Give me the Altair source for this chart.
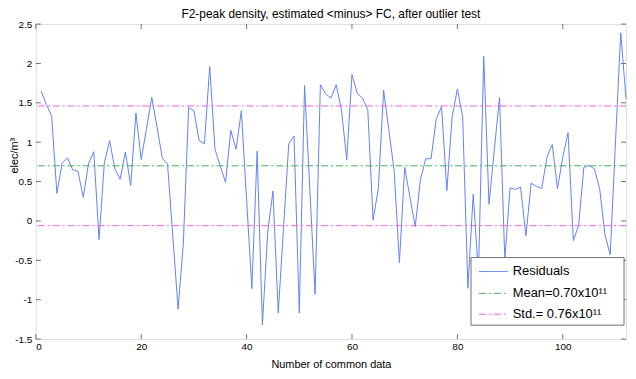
import altair as alt
import pandas as pd

# ---------------- data ----------------
title_text = "F2-peak density, estimated <minus> FC, after outlier test"
x_title = "Number of common data"
y_title = "elec/m³"

sample_index = list(range(1, 113))
residuals = [
    1.65, 1.48, 1.33, 0.35, 0.735, 0.80, 0.65, 0.63, 0.30, 0.73,
    0.88, -0.235, 0.735, 1.02, 0.66, 0.53, 0.876, 0.45, 1.37, 0.78,
    1.17, 1.57, 1.19, 0.80, 0.72, -0.20, -1.12, -0.28, 1.44, 1.40,
    1.02, 0.98, 1.96, 0.91, 0.70, 0.49, 1.15, 0.91, 1.40, 0.27,
    -0.86, 0.885, -1.32, -0.15, 0.38, -1.17, -0.10, 0.98, 1.08, -1.17,
    1.72, 0.40, -0.93, 1.73, 1.615, 1.56, 1.73, 1.41, 0.78, 1.86,
    1.62, 1.56, 1.41, 0.01, 0.41, 1.66, 1.15, 0.64, -0.53, 0.68,
    0.30, -0.07, 0.53, 0.79, 0.79, 1.30, 1.45, 0.385, 1.32, 1.675,
    1.32, -0.855, 0.34, -0.68, 2.09, 0.21, 0.90, 1.57, -0.49, 0.42,
    0.40, 0.43, -0.19, 0.48, 0.44, 0.41, 0.81, 0.97, 0.41, 0.81,
    1.12, -0.25, -0.06, 0.68, 0.705, 0.66, 0.41, -0.17, -0.43, 1.00,
    2.39, 1.55,
]
mean_value = 0.70
std_value = 0.76
legend_labels = ["Residuals", "Mean=0.70x10¹¹", "Std.= 0.76x10¹¹"]
x_ticks = [0, 20, 40, 60, 80, 100]
y_ticks = [-1.5, -1, -0.5, 0, 0.5, 1, 1.5, 2, 2.5]
x_domain = [0, 112]
y_domain = [-1.5, 2.5]

# ---------------- styles ----------------
W, H = 594, 317
FONT = "Liberation Sans"
AXC = "#707070"
BLUE = "#6282f3"
GREEN = "#3cb25a"
MAGENTA = "#f25fe0"
DASHDOT = [7, 3, 2, 3]
TICK = 5

xs = alt.Scale(domain=x_domain, nice=False, zero=False)
ys = alt.Scale(domain=y_domain, nice=False, zero=False)

x_axis = alt.Axis(
    values=x_ticks, title=x_title, ticks=False, domain=False, grid=False,
    labelPadding=3, titlePadding=7, titleFontWeight="normal",
    labelOverlap=False, labelExpr="'' + datum.value")
y_axis = alt.Axis(
    values=y_ticks, title=y_title, ticks=False, domain=False, grid=False,
    labelPadding=4, titleFontWeight="normal", titleX=-21, titleY=132,
    titleAngle=270, titleAlign="center", titleBaseline="middle",
    labelOverlap=False, labelSeparation=0, labelExpr="'' + datum.value")


def X():
    return alt.X("x:Q", scale=xs, axis=x_axis)


def Y():
    return alt.Y("y:Q", scale=ys, axis=y_axis)


df = pd.DataFrame({"x": sample_index, "y": residuals})
stats_df = pd.DataFrame({
    "y": [mean_value, mean_value + std_value, mean_value - std_value],
    "kind": ["mean", "std", "std"],
})
xt_df = pd.DataFrame({"x": x_ticks})
yt_df = pd.DataFrame({"y": y_ticks})

line = alt.Chart(df).mark_line(color=BLUE, strokeWidth=1).encode(x=X(), y=Y())

mean_rule = alt.Chart(stats_df).transform_filter("datum.kind == 'mean'").mark_rule(
    color=GREEN, strokeWidth=1, strokeDash=DASHDOT).encode(y=Y())
std_rule = alt.Chart(stats_df).transform_filter("datum.kind == 'std'").mark_rule(
    color=MAGENTA, strokeWidth=1, strokeDash=DASHDOT).encode(y=Y())

tick_style = dict(color=AXC, strokeWidth=1)
xt_bottom = alt.Chart(xt_df).mark_rule(**tick_style).encode(
    x=X(), y=alt.value(H - TICK), y2=alt.value(H))
xt_top = alt.Chart(xt_df).mark_rule(**tick_style).encode(
    x=X(), y=alt.value(0), y2=alt.value(TICK))
yt_left = alt.Chart(yt_df).mark_rule(**tick_style).encode(
    y=Y(), x=alt.value(0), x2=alt.value(TICK))
yt_right = alt.Chart(yt_df).mark_rule(**tick_style).encode(
    y=Y(), x=alt.value(W - TICK), x2=alt.value(W))

# ---------------- legend (manual, MATLAB style) ----------------
one = pd.DataFrame({"a": [0]})
box = alt.Chart(one).mark_rect(fill="white", stroke=AXC, strokeWidth=1).encode(
    x=alt.value(W - 156), x2=alt.value(W - 2), y=alt.value(H - 82), y2=alt.value(H - 14))

legend_layers = [box]
entry_colors = [BLUE, GREEN, MAGENTA]
entry_dash = [[1, 0], DASHDOT, DASHDOT]
row_y = [H - 68, H - 46, H - 25]
for label, colr, dash, ry in zip(legend_labels, entry_colors, entry_dash, row_y):
    ldf = pd.DataFrame({"label": [label]})
    legend_layers.append(alt.Chart(ldf).mark_rule(color=colr, strokeWidth=1, strokeDash=dash).encode(
        x=alt.value(W - 148), x2=alt.value(W - 119), y=alt.value(ry)))
    legend_layers.append(alt.Chart(ldf).mark_text(
        align="left", baseline="middle", font=FONT, fontSize=13, color="black").encode(
        x=alt.value(W - 114), y=alt.value(ry), text="label:N"))

chart = alt.layer(
    line, mean_rule, std_rule, xt_bottom, xt_top, yt_left, yt_right, *legend_layers
).properties(
    width=W, height=H,
    title=alt.Title(title_text, font=FONT, fontSize=12, fontWeight="normal",
                    anchor="middle", offset=-2, color="black"),
    padding={"left": 28, "top": 15, "right": 2, "bottom": 36},
    autosize="none",
).configure_view(
    stroke=AXC, strokeWidth=1, fill="white"
).configure_axis(
    labelFont=FONT, labelFontSize=12, labelColor="black",
    titleFont=FONT, titleFontSize=12, titleFontWeight="normal", titleColor="black",
).configure(background="white")

chart.save("out.html", embed_options={"renderer": "svg", "actions": False})
